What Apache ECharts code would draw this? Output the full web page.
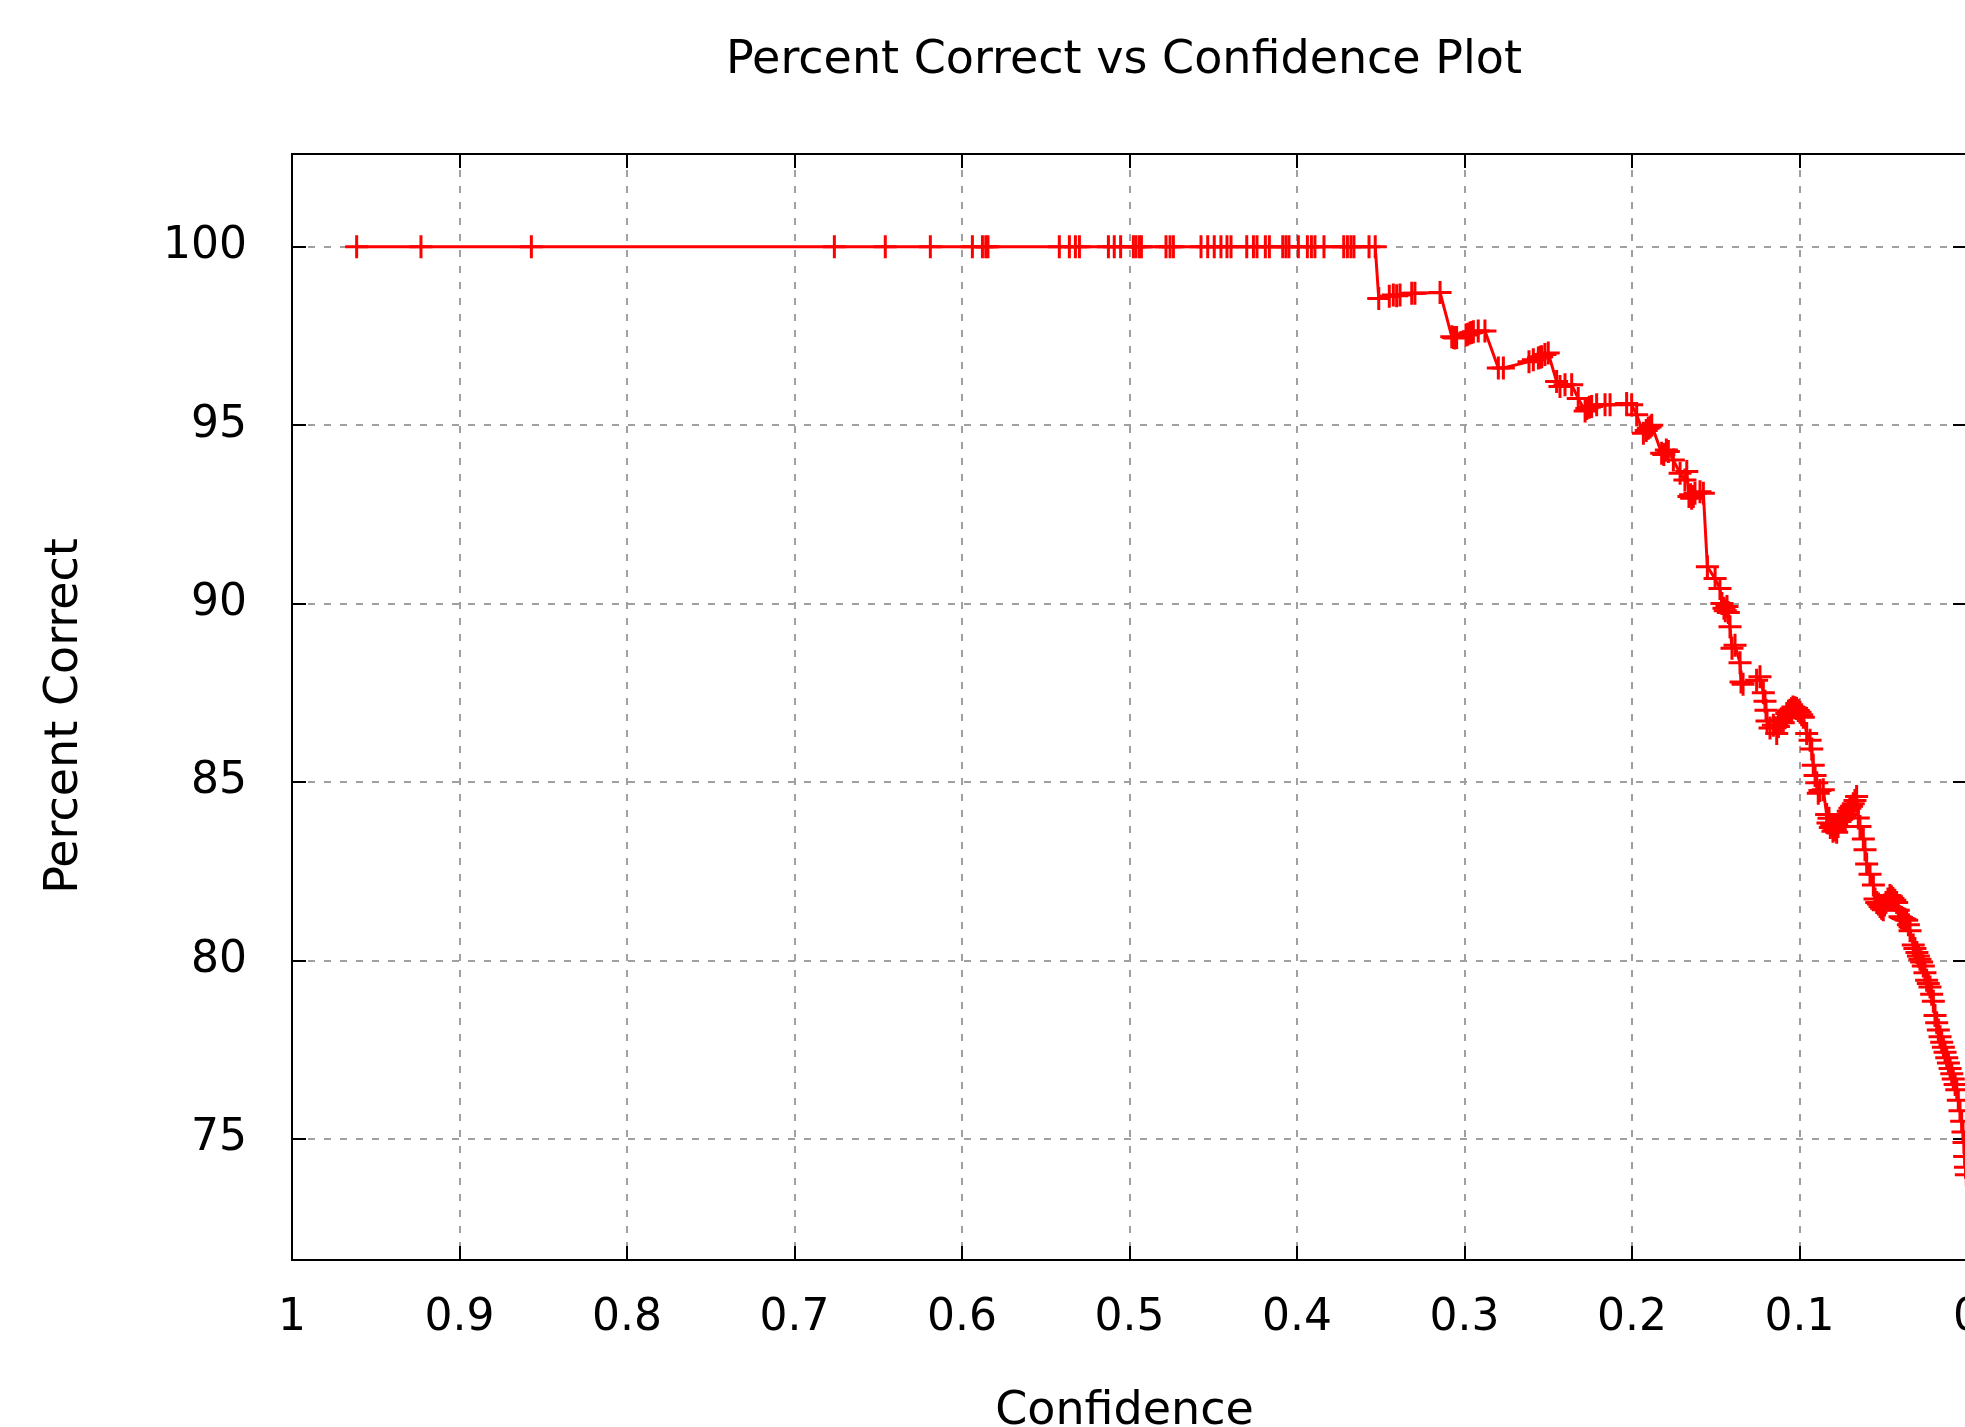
<!DOCTYPE html>
<html>
<head>
<meta charset="utf-8">
<script src="https://cdn.jsdelivr.net/npm/echarts@6/dist/echarts.min.js"></script>
<style>
html,body{margin:0;padding:0;background:#ffffff;}
#chart{width:1965px;height:1427px;}
</style>
</head>
<body>
<div id="chart"></div>
<script>
// ---- Data (confidence, percent correct) ----
// Plateau at 100 %
const plateauConfidence = [
  0.9614, 0.9230, 0.8571, 0.6762, 0.6458, 0.6189, 0.5938, 0.5878, 0.5858, 0.5845,
  0.5419, 0.5359, 0.5323, 0.5299, 0.5126, 0.5091, 0.5053, 0.4977, 0.4961, 0.4941,
  0.4929, 0.4782, 0.4758, 0.4738, 0.4573, 0.4533, 0.4494, 0.4454, 0.4418, 0.4394,
  0.4300, 0.4260, 0.4239, 0.4189, 0.4165, 0.4085, 0.4066, 0.4048, 0.3992, 0.3938,
  0.3914, 0.3893, 0.3839, 0.3721, 0.3699, 0.3678, 0.3660, 0.3570, 0.3533
];
const plateauPercent = [
  100, 100, 100, 100, 100, 100, 100, 100, 100, 100,
  100, 100, 100, 100, 100, 100, 100, 100, 100, 100,
  100, 100, 100, 100, 100, 100, 100, 100, 100, 100,
  100, 100, 100, 100, 100, 100, 100, 100, 100, 100,
  100, 100, 100, 100, 100, 100, 100, 100, 100
];
// Upper descending part
const upperConfidence = [
  0.3512, 0.3449, 0.3425, 0.3405, 0.3385, 0.3315, 0.3296, 0.3146, 0.3076, 0.3066,
  0.3057, 0.3047, 0.2991, 0.2980, 0.2967, 0.2957, 0.2947, 0.2918, 0.2878, 0.2798,
  0.2768, 0.2615, 0.2589, 0.2559, 0.2549, 0.2539, 0.2520, 0.2500, 0.2450, 0.2430,
  0.2400, 0.2360, 0.2321, 0.2280, 0.2270, 0.2255, 0.2241, 0.2211, 0.2161, 0.2131,
  0.2032, 0.2002, 0.1972, 0.1932, 0.1915, 0.1903, 0.1892, 0.1882, 0.1823, 0.1810,
  0.1795, 0.1783, 0.1753, 0.1713, 0.1684, 0.1673, 0.1660, 0.1650, 0.1644, 0.1634,
  0.1624, 0.1594, 0.1574
];
const upperPercent = [
  98.55, 98.61, 98.65, 98.63, 98.65, 98.70, 98.70, 98.72, 97.48, 97.46,
  97.44, 97.46, 97.53, 97.55, 97.58, 97.60, 97.62, 97.64, 97.64, 96.60,
  96.60, 96.78, 96.83, 96.88, 96.90, 96.92, 96.98, 97.02, 96.22, 96.08,
  96.13, 96.13, 95.75, 95.40, 95.47, 95.50, 95.52, 95.57, 95.57, 95.57,
  95.61, 95.57, 95.29, 94.77, 94.85, 94.91, 94.95, 95.00, 94.21, 94.18,
  94.30, 94.26, 94.02, 93.65, 93.46, 93.70, 93.00, 93.05, 92.95, 93.00,
  93.09, 93.13, 93.09
];
// Lower, steep part
const lowerConfidence = [
  0.1550, 0.1504, 0.1475, 0.1463, 0.1451, 0.1443, 0.1433, 0.1425, 0.1415, 0.1403,
  0.1385, 0.1355, 0.1349, 0.1337, 0.1256, 0.1236, 0.1216, 0.1206, 0.1200, 0.1194,
  0.1176, 0.1156, 0.1136, 0.1126, 0.1116, 0.1106, 0.1097, 0.1086, 0.1076, 0.1066,
  0.1057, 0.1048, 0.1039, 0.1027, 0.1017, 0.1007, 0.0997, 0.0987, 0.0977, 0.0957,
  0.0937, 0.0927, 0.0918, 0.0907, 0.0897, 0.0888, 0.0878, 0.0858, 0.0838, 0.0830,
  0.0824, 0.0816, 0.0808, 0.0800, 0.0794, 0.0786, 0.0778, 0.0770, 0.0758, 0.0750,
  0.0740, 0.0730, 0.0718, 0.0709, 0.0699, 0.0689, 0.0679, 0.0669, 0.0659, 0.0649,
  0.0639, 0.0619, 0.0609, 0.0599, 0.0579, 0.0559, 0.0549, 0.0539, 0.0529, 0.0519,
  0.0510, 0.0500, 0.0492, 0.0484, 0.0472, 0.0460, 0.0451, 0.0442, 0.0431, 0.0420,
  0.0410, 0.0400, 0.0391, 0.0382, 0.0371, 0.0360, 0.0350, 0.0340, 0.0321, 0.0311,
  0.0299, 0.0290, 0.0281, 0.0271, 0.0261, 0.0251, 0.0241, 0.0231, 0.0221, 0.0211,
  0.0201, 0.0191, 0.0181, 0.0171, 0.0161, 0.0151, 0.0141, 0.0131, 0.0121, 0.0111,
  0.0101, 0.0091, 0.0082, 0.0071, 0.0061, 0.0052, 0.0042, 0.0032, 0.0024, 0.0018,
  0.0014, 0.0009, 0.0004
];
const lowerPercent = [
  91.03, 90.70, 90.42, 90.00, 89.87, 89.80, 89.92, 89.75, 89.35, 88.75,
  88.83, 88.34, 87.80, 87.74, 87.85, 87.95, 87.50, 87.26, 87.01, 86.71,
  86.51, 86.59, 86.36, 86.55, 86.73, 86.70, 86.66, 86.80, 86.92, 86.98,
  87.01, 87.05, 87.10, 87.08, 87.06, 87.00, 86.95, 86.88, 86.81, 86.36,
  86.17, 85.92, 85.47, 85.18, 84.98, 84.68, 84.76, 84.78, 84.09, 83.85,
  83.98, 83.72, 83.79, 83.62, 83.70, 83.66, 83.59, 83.75, 83.89, 83.95,
  83.98, 84.02, 84.09, 84.18, 84.26, 84.32, 84.39, 84.48, 84.59, 83.99,
  83.75, 83.40, 83.10, 82.70, 82.41, 82.11, 81.72, 81.62, 81.58, 81.51,
  81.46, 81.42, 81.55, 81.62, 81.72, 81.82, 81.78, 81.73, 81.68, 81.62,
  81.40, 81.22, 81.20, 81.17, 81.15, 81.12, 81.00, 80.83, 80.43, 80.33,
  80.22, 80.12, 80.03, 79.95, 79.84, 79.65, 79.44, 79.35, 79.25, 79.05,
  78.85, 78.45, 78.25, 78.05, 77.86, 77.70, 77.56, 77.42, 77.27, 77.12,
  76.97, 76.82, 76.67, 76.52, 76.37, 76.08, 75.78, 75.49, 75.19, 74.89,
  74.50, 74.20, 73.99
];
const yTickValues = [75, 80, 85, 90, 95, 100];
const xRange = [0, 1];
const yRange = [71.6, 102.6];

const confidence = plateauConfidence.concat(upperConfidence, lowerConfidence);
const percentCorrect = plateauPercent.concat(upperPercent, lowerPercent);
const points = confidence.map((c, i) => [c, percentCorrect[i]]);

const FONT = 'DejaVu Sans';
const plusSymbol = 'path://M-1.5,-11.5L1.5,-11.5L1.5,-1.5L11.5,-1.5L11.5,1.5L1.5,1.5L1.5,11.5L-1.5,11.5L-1.5,1.5L-11.5,1.5L-11.5,-1.5L-1.5,-1.5Z';

const tickStyle = { show: true, inside: true, length: 14, lineStyle: { color: '#000', width: 2 } };
const lineStyleAxis = { show: true, onZero: false, lineStyle: { color: '#000', width: 2 } };
const gridLine = { show: true, lineStyle: { color: '#a0a0a0', width: 2, type: [7, 9] } };

const chart = echarts.init(document.getElementById('chart'), null, { renderer: 'canvas' });
chart.setOption({
  animation: false,
  backgroundColor: '#ffffff',
  title: {
    text: 'Percent Correct vs Confidence Plot',
    left: 1124, top: 38, textAlign: 'center', padding: 0,
    textStyle: { fontFamily: FONT, fontSize: 46, fontWeight: 'normal', color: '#000', lineHeight: 46 }
  },
  grid: {
    left: 292, top: 154, width: 1675, height: 1106,
    containLabel: false, outerBoundsMode: 'none',
    show: true, borderColor: '#000', borderWidth: 2, backgroundColor: 'transparent'
  },
  xAxis: [{
    type: 'value', min: xRange[0], max: xRange[1], interval: 0.1, inverse: true, position: 'bottom',
    name: 'Confidence', nameLocation: 'middle', nameGap: 129,
    nameTextStyle: { fontFamily: FONT, fontSize: 46, color: '#000', lineHeight: 46, padding: [0, 10, 0, 0] },
    axisLine: lineStyleAxis, axisTick: tickStyle,
    axisLabel: { margin: 37, fontFamily: FONT, fontSize: 44, lineHeight: 44, color: '#000', showMinLabel: true, showMaxLabel: true },
    splitLine: gridLine
  }, {
    type: 'value', min: xRange[0], max: xRange[1], interval: 0.1, inverse: true, position: 'top',
    axisLine: lineStyleAxis, axisTick: tickStyle, axisLabel: { show: false }, splitLine: { show: false }
  }],
  yAxis: [{
    type: 'value', min: yRange[0], max: yRange[1], position: 'left',
    name: 'Percent Correct', nameLocation: 'middle', nameGap: 204,
    nameTextStyle: { fontFamily: FONT, fontSize: 46, color: '#000', lineHeight: 46, padding: [0, 18, 0, 0] },
    axisLine: lineStyleAxis,
    axisTick: Object.assign({ customValues: yTickValues }, tickStyle),
    axisLabel: { customValues: yTickValues, margin: 45, fontFamily: FONT, fontSize: 44, lineHeight: 44, color: '#000' },
    splitLine: gridLine
  }, {
    type: 'value', min: yRange[0], max: yRange[1], position: 'right',
    axisLine: lineStyleAxis,
    axisTick: Object.assign({ customValues: yTickValues }, tickStyle),
    axisLabel: { show: false }, splitLine: { show: false }
  }],
  series: [{
    type: 'line',
    xAxisIndex: 0, yAxisIndex: 0,
    data: points,
    symbol: plusSymbol,
    symbolSize: 23,
    showAllSymbol: true,
    lineStyle: { color: '#ff0000', width: 3 },
    itemStyle: { color: '#ff0000' },
    emphasis: { disabled: true }
  }]
});
</script>
</body>
</html>
